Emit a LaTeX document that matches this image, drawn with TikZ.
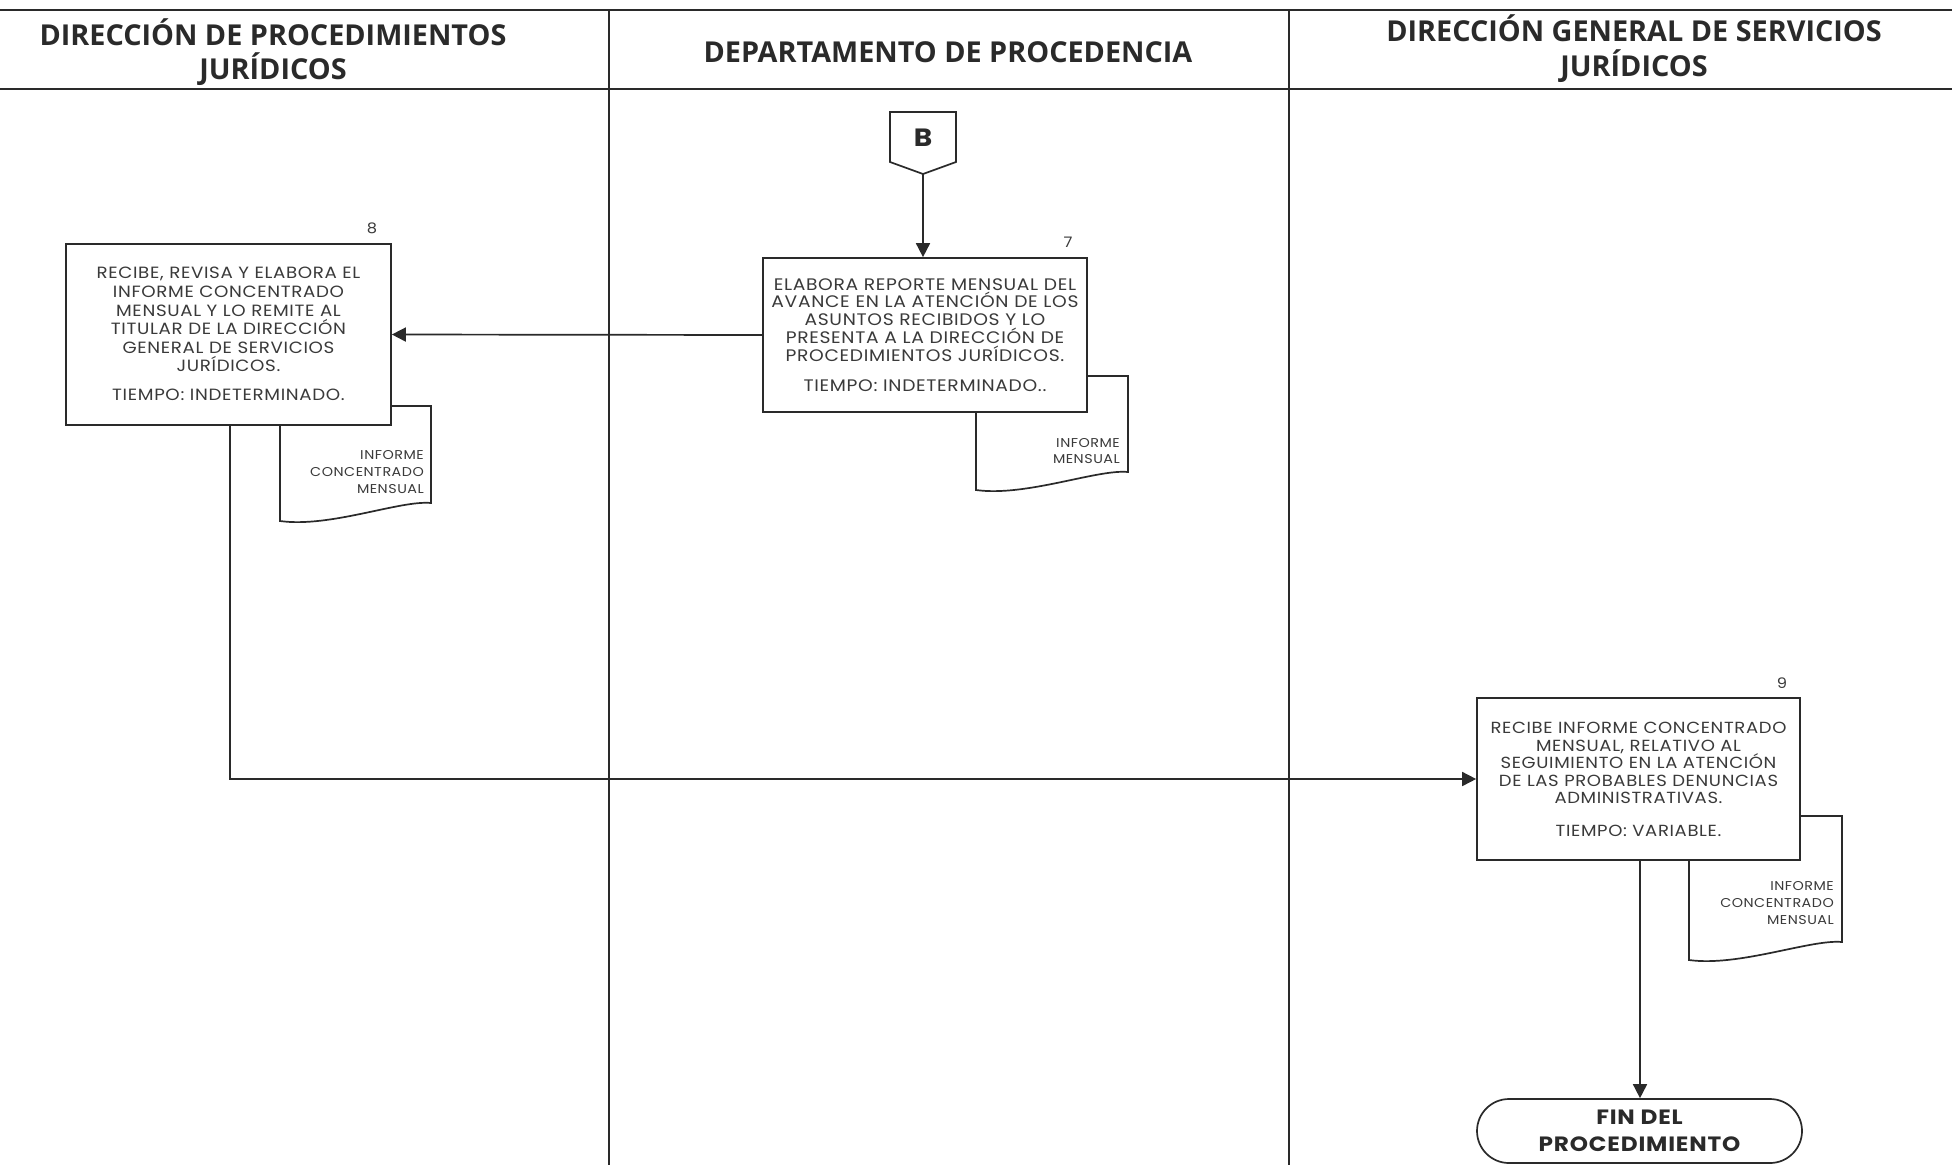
\documentclass[tikz,border=0pt]{standalone}
\usepackage{fontspec}
\setmainfont{Poppins}[FakeStretch=1.12, LetterSpace=4]
\newfontfamily\hdrfont{Open Sans}
\usetikzlibrary{arrows.meta}
\definecolor{ink}{HTML}{2A2A2A}
\definecolor{txt}{HTML}{3A3A3A}
\begin{document}
\begin{tikzpicture}[x=1pt,y=-1pt,
  line width=1.7pt, draw=ink,
  arr/.style={draw=ink, line width=1.7pt, -{Triangle[length=14pt,width=14pt]}},
  procbox/.style={draw=ink, fill=white, line width=1.7pt, minimum width=#1, inner sep=0pt},
  hdr/.style={font=\hdrfont\bfseries\fontsize{28.8}{34.5}\selectfont, text=ink, align=center},
  body/.style={text=txt, align=center},
  doctext/.style={text=txt, align=right, anchor=east, font=\fontsize{12.8}{16.8}\selectfont},
  num/.style={text=txt, font=\fontsize{14.5}{16}\selectfont}
]
\useasboundingbox (0,0) rectangle (1952,1165);
\fill[white] (0,0) rectangle (1952,1165);

% header lines and lane dividers
\draw[line width=2.6pt] (0,10) -- (1952,10);
\draw[line width=2.6pt] (0,89) -- (1952,89);
\draw[line width=1.4pt] (609,10) -- (609,1165);
\draw[line width=1.4pt] (1289,10) -- (1289,1165);

\node[hdr] (h1) at (273,52) {DIRECCIÓN DE PROCEDIMIENTOS\\JURÍDICOS};
\node[hdr] (h2) at (948,52) {DEPARTAMENTO DE PROCEDENCIA};
\node[hdr] (h3) at (1634,48.5) {DIRECCIÓN GENERAL DE SERVICIOS\\JURÍDICOS};

% documents (drawn first, boxes cover their tops)
\draw[fill=white] (280,406) -- (431,406) -- (431,503) .. controls (400,500) and (330,528) .. (280,521) -- cycle;
\draw[fill=white] (976,376) -- (1128,376) -- (1128,472) .. controls (1097,469) and (1026,497) .. (976,490) -- cycle;
\draw[fill=white] (1689,816) -- (1842,816) -- (1842,942) .. controls (1811,939) and (1739,967) .. (1689,960) -- cycle;

\node[doctext] (d8) at (428,472) {INFORME\\CONCENTRADO\\MENSUAL};
\node[doctext] (d7) at (1124,451) {INFORME\\MENSUAL};
\node[doctext] (d9) at (1838,903) {INFORME\\CONCENTRADO\\MENSUAL};

% connector B
\draw[fill=white] (890,112) -- (956,112) -- (956,162) -- (923,174) -- (890,162) -- cycle;
\node[font=\bfseries\fontsize{25}{27}\selectfont, text=ink] (B) at (923,138) {B};
\coordinate (Bp) at (923,174);

% process boxes
\node[procbox=325pt, minimum height=181pt] (box8) at (228.5,334.5) {};
\node[procbox=324pt, minimum height=154pt] (box7) at (925,335) {};
\node[procbox=323pt, minimum height=162pt] (box9) at (1638.5,779) {};

\node[body, font=\fontsize{16.3}{18.6}\selectfont] (t8) at (228.5,334)
  {RECIBE, REVISA Y ELABORA EL\\INFORME CONCENTRADO\\MENSUAL Y LO REMITE AL\\TITULAR DE LA DIRECCIÓN\\GENERAL DE SERVICIOS\\JURÍDICOS.\\[10pt]TIEMPO: INDETERMINADO.};
\node[body, font=\fontsize{16.7}{17.9}\selectfont] (t7) at (925,335)
  {ELABORA REPORTE MENSUAL DEL\\AVANCE EN LA ATENCIÓN DE LOS\\ASUNTOS RECIBIDOS Y LO\\PRESENTA A LA DIRECCIÓN DE\\PROCEDIMIENTOS JURÍDICOS.\\[12pt]TIEMPO: INDETERMINADO..};
\node[body, font=\fontsize{16.1}{17.5}\selectfont] (t9) at (1638.5,779.5)
  {RECIBE INFORME CONCENTRADO\\MENSUAL, RELATIVO AL\\SEGUIMIENTO EN LA ATENCIÓN\\DE LAS PROBABLES DENUNCIAS\\ADMINISTRATIVAS.\\[15pt]TIEMPO: VARIABLE.};

\node[num] (n8) at (372,228) {8};
\node[num] (n7) at (1068,242) {7};
\node[num] (n9) at (1782,683) {9};

% terminal
\node[draw=ink, fill=white, line width=1.7pt, rounded corners=32pt, minimum width=325pt, minimum height=64pt,
  font=\bfseries\fontsize{20.7}{27}\selectfont, text=ink, align=center] (fin) at (1639.5,1131) {FIN DEL\\PROCEDIMIENTO};

% connectors
\draw[arr] (Bp) -- (Bp |- box7.north);
\draw[arr] (box7.west) -- (box8.east);
\coordinate (c8) at (230,425);
\draw[arr] (c8) |- (box9.west);
\coordinate (c9) at (1640,860);
\draw[arr] (c9) -- (c9 |- fin.north);
\end{tikzpicture}
\end{document}
